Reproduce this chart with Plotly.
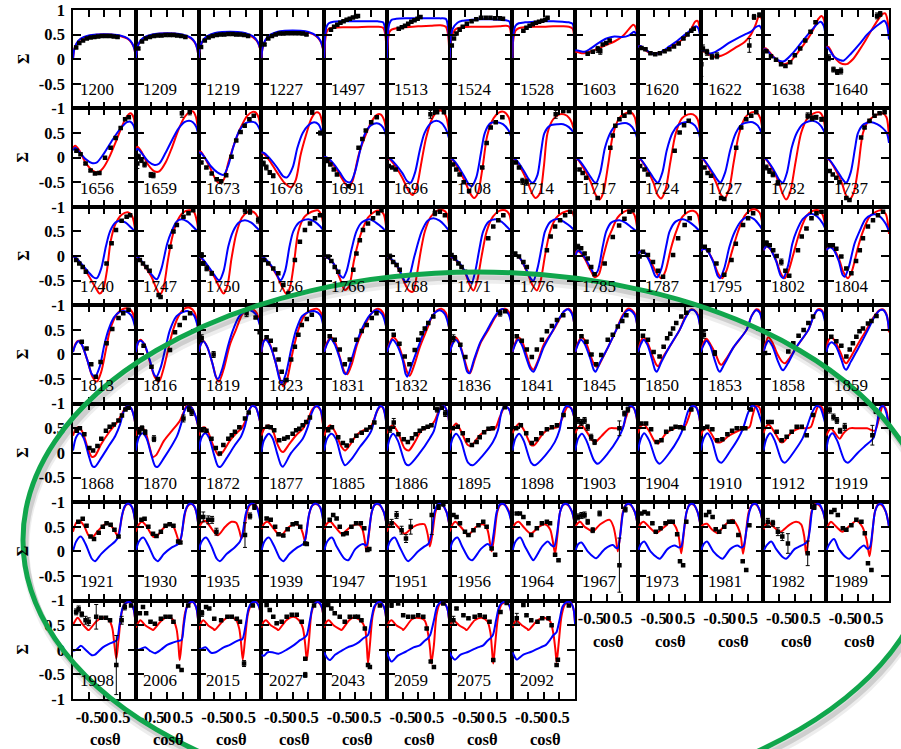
import plotly.graph_objects as go
from plotly.subplots import make_subplots

energies = [1200, 1209, 1219, 1227, 1497, 1513, 1524, 1528, 1603, 1620, 1622, 1638, 1640,
            1656, 1659, 1673, 1678, 1691, 1696, 1708, 1714, 1717, 1724, 1727, 1732, 1737,
            1740, 1747, 1750, 1756, 1766, 1768, 1771, 1776, 1785, 1787, 1795, 1802, 1804,
            1813, 1816, 1819, 1823, 1831, 1832, 1836, 1841, 1845, 1850, 1853, 1858, 1859,
            1868, 1870, 1872, 1877, 1885, 1886, 1895, 1898, 1903, 1904, 1910, 1912, 1919,
            1921, 1930, 1935, 1939, 1947, 1951, 1956, 1964, 1967, 1973, 1981, 1982, 1989,
            1998, 2006, 2015, 2027, 2043, 2059, 2075, 2092]

x_ticks = [-0.5, 0, 0.5]
x_tick_text = ["-0.5", "0", "0.5"]
y_tick_vals = [-1, -0.5, 0, 0.5, 1]
y_tick_text = ["-1", "-0.5", "0", "0.5", "1"]

# red fit curves, (cos theta, Sigma)
red_fit = [
    [(-1,0),(-0.96,0.2),(-0.88,0.32),(-0.75,0.41),(-0.5,0.47),(-0.25,0.495),(0,0.5),(0.25,0.495),(0.5,0.47),(0.75,0.41),(0.88,0.32),(0.96,0.2),(1,0)],
    [(-1,0),(-0.96,0.21),(-0.88,0.34),(-0.75,0.43),(-0.5,0.49),(-0.25,0.515),(0,0.52),(0.25,0.515),(0.5,0.49),(0.75,0.43),(0.88,0.34),(0.96,0.21),(1,0)],
    [(-1,0),(-0.96,0.21),(-0.88,0.35),(-0.75,0.44),(-0.5,0.51),(-0.25,0.535),(0,0.54),(0.25,0.535),(0.5,0.51),(0.75,0.44),(0.88,0.35),(0.96,0.21),(1,0)],
    [(-1,0),(-0.96,0.22),(-0.88,0.37),(-0.75,0.47),(-0.5,0.54),(-0.25,0.565),(0,0.57),(0.25,0.565),(0.5,0.54),(0.75,0.47),(0.88,0.37),(0.96,0.22),(1,0)],
    [(-1,0),(-0.97,0.35),(-0.92,0.55),(-0.85,0.62),(-0.7,0.64),(-0.4,0.65),(0,0.65),(0.4,0.66),(0.7,0.66),(0.88,0.64),(0.95,0.5),(1,0)],
    [(-1,0),(-0.97,0.35),(-0.92,0.55),(-0.85,0.6),(-0.7,0.63),(-0.4,0.65),(0,0.67),(0.4,0.68),(0.7,0.69),(0.88,0.66),(0.95,0.5),(1,0)],
    [(-1,0),(-0.96,0.4),(-0.88,0.55),(-0.78,0.62),(-0.6,0.65),(-0.3,0.66),(0,0.66),(0.3,0.66),(0.6,0.67),(0.8,0.68),(0.9,0.66),(0.96,0.5),(1,0)],
    [(-1,0),(-0.97,0.4),(-0.9,0.58),(-0.8,0.63),(-0.6,0.65),(-0.3,0.66),(0,0.66),(0.3,0.67),(0.6,0.67),(0.8,0.66),(0.92,0.62),(0.97,0.45),(1,0)],
    [(-1,0.15),(-0.9,0.14),(-0.75,0.12),(-0.5,0.16),(-0.25,0.22),(0,0.29),(0.25,0.36),(0.5,0.46),(0.7,0.6),(0.85,0.7),(0.93,0.65),(1,0.3)],
    [(-1,0.25),(-0.92,0.27),(-0.8,0.2),(-0.6,0.12),(-0.4,0.12),(-0.2,0.16),(0,0.22),(0.25,0.32),(0.5,0.45),(0.7,0.62),(0.82,0.76),(0.9,0.78),(0.96,0.65),(1,0.4)],
    [(-1,0.15),(-0.9,0.16),(-0.75,0.1),(-0.55,0.05),(-0.35,0.07),(-0.1,0.15),(0.15,0.25),(0.4,0.35),(0.6,0.5),(0.75,0.7),(0.85,0.86),(0.92,0.85),(1,0.5)],
    [(-1,0.2),(-0.92,0.22),(-0.75,0.1),(-0.55,-0.03),(-0.35,-0.1),(-0.15,-0.05),(0.05,0.1),(0.25,0.27),(0.45,0.45),(0.6,0.62),(0.75,0.82),(0.85,0.88),(0.93,0.8),(1,0.4)],
    [(-1,0.25),(-0.93,0.25),(-0.75,0.05),(-0.55,-0.08),(-0.35,-0.1),(-0.15,0.0),(0.05,0.18),(0.25,0.38),(0.45,0.6),(0.65,0.8),(0.8,0.92),(0.88,0.93),(0.95,0.8),(1,0.5)],
    # row 2
    [(-1,0.2),(-0.93,0.24),(-0.8,0.15),(-0.6,-0.1),(-0.4,-0.25),(-0.2,-0.3),(-0.05,-0.22),(0.15,0.0),(0.35,0.3),(0.55,0.62),(0.7,0.82),(0.83,0.9),(0.93,0.82),(1,0.4)],
    [(-1,0.18),(-0.94,0.22),(-0.8,0.1),(-0.6,-0.15),(-0.4,-0.28),(-0.25,-0.28),(-0.05,-0.1),(0.15,0.2),(0.35,0.55),(0.55,0.82),(0.72,0.93),(0.82,0.94),(0.92,0.82),(1,0.45)],
    [(-1,0.12),(-0.93,0.12),(-0.8,0.0),(-0.6,-0.25),(-0.45,-0.45),(-0.33,-0.52),(-0.2,-0.45),(-0.05,-0.1),(0.15,0.3),(0.35,0.62),(0.55,0.85),(0.72,0.93),(0.82,0.92),(0.92,0.8),(1,0.45)],
    [(-1,0.1),(-0.93,0.08),(-0.75,-0.05),(-0.5,-0.3),(-0.25,-0.52),(-0.05,-0.6),(0.1,-0.45),(0.25,0.05),(0.42,0.45),(0.6,0.8),(0.75,0.92),(0.85,0.9),(0.94,0.72),(1,0.4)],
    [(-1,0.02),(-0.9,-0.02),(-0.7,-0.15),(-0.5,-0.35),(-0.3,-0.55),(-0.2,-0.6),(-0.08,-0.45),(0.1,0.05),(0.3,0.42),(0.5,0.72),(0.68,0.87),(0.8,0.88),(0.92,0.75),(1,0.4)],
    [(-1,0.0),(-0.9,-0.04),(-0.7,-0.2),(-0.5,-0.42),(-0.3,-0.68),(-0.18,-0.76),(-0.05,-0.6),(0.1,-0.1),(0.25,0.4),(0.45,0.8),(0.62,0.94),(0.75,0.95),(0.88,0.85),(1,0.45)],
    [(-1,0.0),(-0.9,-0.05),(-0.7,-0.25),(-0.5,-0.5),(-0.35,-0.72),(-0.22,-0.82),(-0.1,-0.72),(0.05,-0.2),(0.2,0.45),(0.4,0.8),(0.58,0.92),(0.73,0.93),(0.88,0.82),(1,0.45)],
    [(-1,0.0),(-0.9,-0.05),(-0.7,-0.25),(-0.5,-0.52),(-0.38,-0.72),(-0.26,-0.82),(-0.12,-0.72),(0.0,-0.2),(0.12,0.5),(0.3,0.78),(0.5,0.88),(0.65,0.88),(0.82,0.8),(0.95,0.6),(1,0.4)],
    [(-1,0.0),(-0.9,-0.05),(-0.7,-0.25),(-0.5,-0.5),(-0.35,-0.75),(-0.22,-0.85),(-0.1,-0.7),(0.05,-0.15),(0.2,0.45),(0.4,0.8),(0.6,0.9),(0.78,0.92),(0.9,0.82),(1,0.4)],
    [(-1,0.0),(-0.9,-0.05),(-0.7,-0.25),(-0.5,-0.52),(-0.38,-0.75),(-0.26,-0.83),(-0.12,-0.65),(0.03,-0.1),(0.2,0.48),(0.4,0.8),(0.6,0.88),(0.76,0.88),(0.9,0.78),(1,0.4)],
    [(-1,0.0),(-0.9,-0.05),(-0.7,-0.25),(-0.5,-0.52),(-0.36,-0.75),(-0.24,-0.83),(-0.1,-0.65),(0.05,-0.1),(0.22,0.48),(0.42,0.82),(0.62,0.92),(0.77,0.92),(0.9,0.8),(1,0.4)],
    [(-1,0.0),(-0.9,-0.05),(-0.7,-0.25),(-0.5,-0.52),(-0.4,-0.72),(-0.28,-0.85),(-0.15,-0.7),(0.02,-0.1),(0.2,0.5),(0.4,0.8),(0.6,0.9),(0.79,0.92),(0.9,0.82),(1,0.4)],
    [(-1,0.0),(-0.9,-0.05),(-0.7,-0.25),(-0.5,-0.52),(-0.38,-0.75),(-0.26,-0.85),(-0.12,-0.7),(0.02,-0.2),(0.17,0.5),(0.35,0.75),(0.55,0.85),(0.8,0.9),(0.92,0.82),(1,0.4)],
    # row 3
    [(-1,0.0),(-0.9,-0.05),(-0.7,-0.2),(-0.5,-0.4),(-0.3,-0.62),(-0.15,-0.76),(-0.05,-0.7),(0.08,-0.3),(0.2,0.3),(0.35,0.65),(0.55,0.84),(0.75,0.89),(0.88,0.82),(1,0.45)],
    [(-1,0.0),(-0.9,-0.05),(-0.7,-0.22),(-0.5,-0.42),(-0.35,-0.65),(-0.23,-0.78),(-0.12,-0.65),(0.02,-0.1),(0.15,0.35),(0.3,0.68),(0.5,0.88),(0.7,0.93),(0.85,0.9),(0.95,0.7),(1,0.45)],
    [(-1,0.0),(-0.9,-0.05),(-0.7,-0.22),(-0.5,-0.42),(-0.32,-0.65),(-0.2,-0.76),(-0.08,-0.6),(0.05,-0.05),(0.2,0.45),(0.38,0.78),(0.58,0.9),(0.74,0.9),(0.88,0.8),(1,0.45)],
    [(-1,0.0),(-0.9,-0.05),(-0.7,-0.2),(-0.5,-0.4),(-0.32,-0.65),(-0.19,-0.78),(-0.08,-0.62),(0.05,-0.1),(0.18,0.5),(0.38,0.8),(0.6,0.9),(0.8,0.93),(0.92,0.82),(1,0.45)],
    [(-1,0.0),(-0.9,-0.03),(-0.7,-0.15),(-0.5,-0.45),(-0.34,-0.69),(-0.2,-0.6),(-0.05,-0.1),(0.1,0.3),(0.2,0.5),(0.4,0.78),(0.6,0.9),(0.78,0.92),(0.9,0.85),(1,0.45)],
    [(-1,0.0),(-0.9,-0.05),(-0.7,-0.18),(-0.5,-0.45),(-0.3,-0.7),(-0.16,-0.72),(-0.05,-0.4),(0.08,0.1),(0.21,0.5),(0.4,0.8),(0.6,0.92),(0.8,0.93),(0.92,0.85),(1,0.45)],
    [(-1,0.0),(-0.9,-0.04),(-0.7,-0.15),(-0.5,-0.35),(-0.35,-0.6),(-0.24,-0.7),(-0.12,-0.5),(0.02,0.0),(0.18,0.5),(0.38,0.8),(0.58,0.92),(0.77,0.93),(0.9,0.85),(1,0.45)],
    [(-1,0.0),(-0.9,0.03),(-0.75,-0.05),(-0.55,-0.3),(-0.35,-0.6),(-0.22,-0.7),(-0.1,-0.5),(0.05,0.05),(0.2,0.5),(0.4,0.78),(0.6,0.88),(0.84,0.92),(0.94,0.85),(1,0.45)],
    [(-1,0.0),(-0.95,0.1),(-0.85,0.08),(-0.7,-0.05),(-0.5,-0.3),(-0.38,-0.43),(-0.25,-0.38),(-0.1,0.0),(0.05,0.35),(0.15,0.5),(0.35,0.78),(0.55,0.9),(0.73,0.93),(0.88,0.85),(1,0.45)],
    [(-1,0.05),(-0.9,0.1),(-0.8,0.08),(-0.6,-0.1),(-0.4,-0.35),(-0.25,-0.45),(-0.12,-0.3),(0.05,0.15),(0.22,0.5),(0.42,0.8),(0.6,0.9),(0.76,0.92),(0.9,0.85),(1,0.45)],
    [(-1,0.1),(-0.9,0.15),(-0.8,0.12),(-0.6,-0.1),(-0.45,-0.35),(-0.31,-0.45),(-0.18,-0.3),(0.0,0.1),(0.19,0.5),(0.4,0.82),(0.58,0.93),(0.72,0.95),(0.88,0.88),(1,0.45)],
    [(-1,0.12),(-0.9,0.2),(-0.8,0.16),(-0.6,-0.08),(-0.45,-0.35),(-0.32,-0.45),(-0.2,-0.3),(0.0,0.15),(0.16,0.5),(0.38,0.82),(0.58,0.92),(0.74,0.93),(0.88,0.85),(1,0.45)],
    [(-1,0.12),(-0.88,0.2),(-0.78,0.16),(-0.6,-0.05),(-0.45,-0.33),(-0.31,-0.45),(-0.18,-0.3),(0.0,0.15),(0.17,0.5),(0.38,0.8),(0.58,0.9),(0.76,0.93),(0.9,0.85),(1,0.45)],
    # row 4
    [(-1,0.05),(-0.92,0.22),(-0.83,0.28),(-0.72,0.2),(-0.55,-0.1),(-0.38,-0.45),(-0.24,-0.55),(-0.1,-0.35),(0.05,0.1),(0.18,0.5),(0.38,0.8),(0.58,0.92),(0.77,0.93),(0.9,0.85),(1,0.45)],
    [(-1,0.05),(-0.92,0.25),(-0.85,0.3),(-0.72,0.2),(-0.55,-0.15),(-0.4,-0.45),(-0.26,-0.55),(-0.12,-0.3),(0.05,0.15),(0.19,0.5),(0.38,0.8),(0.55,0.93),(0.72,0.95),(0.88,0.85),(1,0.45)],
    [(-1,0.05),(-0.92,0.22),(-0.85,0.28),(-0.72,0.15),(-0.55,-0.2),(-0.42,-0.5),(-0.35,-0.55),(-0.2,-0.3),(0.0,0.2),(0.19,0.5),(0.38,0.8),(0.55,0.92),(0.69,0.93),(0.85,0.85),(1,0.45)],
    [(-1,0.05),(-0.92,0.28),(-0.85,0.32),(-0.72,0.2),(-0.55,-0.15),(-0.4,-0.5),(-0.3,-0.65),(-0.18,-0.5),(0.0,0.05),(0.18,0.5),(0.38,0.8),(0.58,0.9),(0.77,0.93),(0.9,0.85),(1,0.45)],
    [(-1,0.05),(-0.9,0.25),(-0.78,0.35),(-0.65,0.25),(-0.5,-0.05),(-0.35,-0.35),(-0.26,-0.4),(-0.12,-0.2),(0.05,0.2),(0.24,0.5),(0.45,0.78),(0.6,0.9),(0.72,0.93),(0.88,0.85),(1,0.45)],
    [(-1,0.05),(-0.9,0.25),(-0.8,0.35),(-0.68,0.28),(-0.5,-0.05),(-0.36,-0.35),(-0.27,-0.43),(-0.12,-0.2),(0.05,0.15),(0.27,0.5),(0.45,0.78),(0.6,0.9),(0.74,0.93),(0.88,0.85),(1,0.45)],
    [(-1,0.05),(-0.9,0.25),(-0.82,0.35),(-0.7,0.25),(-0.55,-0.05),(-0.42,-0.32),(-0.35,-0.38),(-0.2,-0.1),(0.0,0.25),(0.23,0.5),(0.45,0.75),(0.62,0.9),(0.77,0.93),(0.9,0.85),(1,0.45)],
    [(-1,0.05),(-0.9,0.25),(-0.82,0.35),(-0.7,0.28),(-0.55,0.0),(-0.42,-0.25),(-0.33,-0.31),(-0.2,-0.15),(0.0,0.2),(0.31,0.5),(0.5,0.72),(0.65,0.88),(0.79,0.93),(0.9,0.85),(1,0.45)],
    [(-1,0.05),(-0.9,0.25),(-0.8,0.35),(-0.68,0.28),(-0.52,0.0),(-0.38,-0.22),(-0.28,-0.25),(-0.15,-0.1),(0.05,0.15),(0.31,0.5),(0.5,0.78),(0.68,0.93),(0.82,0.9),(0.92,0.8),(1,0.45)],
    [(-1,0.05),(-0.9,0.28),(-0.82,0.35),(-0.7,0.25),(-0.55,0.0),(-0.42,-0.2),(-0.36,-0.24),(-0.2,-0.05),(0.0,0.15),(0.33,0.5),(0.5,0.75),(0.7,0.92),(0.8,0.9),(0.92,0.8),(1,0.45)],
    [(-1,0.05),(-0.9,0.25),(-0.82,0.32),(-0.7,0.22),(-0.52,0.0),(-0.4,-0.18),(-0.34,-0.21),(-0.2,-0.1),(0.05,0.15),(0.46,0.5),(0.62,0.78),(0.78,0.92),(0.88,0.88),(1,0.45)],
    [(-1,0.05),(-0.92,0.25),(-0.85,0.35),(-0.72,0.25),(-0.55,0.0),(-0.4,-0.15),(-0.32,-0.18),(-0.2,-0.1),(0.05,0.15),(0.43,0.5),(0.6,0.78),(0.74,0.92),(0.86,0.9),(0.95,0.75),(1,0.45)],
    [(-1,0.1),(-0.92,0.3),(-0.83,0.35),(-0.7,0.25),(-0.52,0.0),(-0.42,-0.15),(-0.36,-0.18),(-0.22,-0.05),(0.0,0.2),(0.28,0.5),(0.5,0.75),(0.7,0.9),(0.8,0.92),(0.92,0.82),(1,0.45)],
    # row 5
    [(-1,0.35),(-0.9,0.5),(-0.8,0.52),(-0.68,0.4),(-0.52,0.08),(-0.4,-0.08),(-0.3,-0.06),(-0.1,0.18),(0.15,0.42),(0.4,0.62),(0.55,0.78),(0.66,0.92),(0.75,0.95),(0.86,0.9),(0.95,0.72),(1,0.5)],
    [(-1,0.35),(-0.9,0.5),(-0.8,0.52),(-0.68,0.4),(-0.55,0.1),(-0.46,-0.08),(-0.36,-0.05),(-0.1,0.25),(0.15,0.45),(0.4,0.65),(0.52,0.82),(0.62,0.95),(0.75,0.94),(0.9,0.75),(1,0.5)],
    [(-1,0.35),(-0.9,0.5),(-0.8,0.52),(-0.68,0.4),(-0.5,0.1),(-0.36,-0.05),(-0.25,0.0),(0.0,0.25),(0.2,0.4),(0.37,0.5),(0.5,0.66),(0.6,0.85),(0.7,0.95),(0.82,0.93),(0.93,0.72),(1,0.5)],
    [(-1,0.35),(-0.9,0.5),(-0.76,0.56),(-0.63,0.45),(-0.5,0.2),(-0.37,0.04),(-0.3,0.02),(-0.1,0.19),(0.11,0.36),(0.32,0.49),(0.5,0.7),(0.62,0.88),(0.74,0.95),(0.88,0.88),(0.96,0.6),(1,0.5)],
    [(-1,0.35),(-0.9,0.5),(-0.8,0.56),(-0.65,0.43),(-0.44,0.12),(-0.33,0.05),(-0.18,0.16),(0.03,0.36),(0.25,0.46),(0.46,0.5),(0.62,0.73),(0.73,0.9),(0.83,0.95),(0.94,0.8),(1,0.5)],
    [(-1,0.4),(-0.92,0.5),(-0.8,0.56),(-0.65,0.42),(-0.43,0.09),(-0.3,0.05),(-0.11,0.22),(0.11,0.46),(0.37,0.53),(0.53,0.66),(0.69,0.9),(0.82,0.95),(0.94,0.8),(1,0.5)],
    [(-1,0.4),(-0.92,0.5),(-0.79,0.6),(-0.62,0.42),(-0.42,0.16),(-0.31,0.15),(-0.04,0.36),(0.17,0.46),(0.44,0.49),(0.6,0.73),(0.76,0.93),(0.88,0.9),(0.96,0.75),(1,0.5)],
    [(-1,0.4),(-0.92,0.5),(-0.78,0.6),(-0.62,0.45),(-0.4,0.16),(-0.3,0.16),(-0.03,0.39),(0.18,0.49),(0.45,0.53),(0.6,0.72),(0.75,0.93),(0.86,0.92),(0.96,0.75),(1,0.5)],
    [(-1,0.4),(-0.9,0.52),(-0.8,0.56),(-0.65,0.45),(-0.45,0.25),(-0.36,0.22),(-0.15,0.35),(0.1,0.5),(0.3,0.5),(0.5,0.5),(0.62,0.72),(0.75,0.93),(0.86,0.92),(0.95,0.75),(1,0.5)],
    [(-1,0.4),(-0.9,0.55),(-0.8,0.57),(-0.65,0.45),(-0.45,0.22),(-0.36,0.19),(-0.1,0.4),(0.17,0.5),(0.35,0.55),(0.5,0.55),(0.62,0.73),(0.75,0.95),(0.86,0.93),(0.95,0.75),(1,0.5)],
    [(-1,0.35),(-0.9,0.48),(-0.8,0.5),(-0.65,0.38),(-0.5,0.22),(-0.35,0.22),(-0.1,0.35),(0.2,0.45),(0.4,0.5),(0.55,0.52),(0.65,0.75),(0.76,0.95),(0.86,0.93),(0.95,0.75),(1,0.5)],
    [(-1,0.4),(-0.9,0.55),(-0.82,0.57),(-0.65,0.42),(-0.45,0.22),(-0.37,0.22),(-0.1,0.42),(0.15,0.5),(0.35,0.5),(0.5,0.52),(0.62,0.73),(0.75,0.95),(0.86,0.93),(0.95,0.75),(1,0.5)],
    [(-1,0.35),(-0.92,0.45),(-0.85,0.5),(-0.72,0.4),(-0.57,0.29),(-0.45,0.4),(-0.26,0.5),(0.0,0.5),(0.3,0.5),(0.55,0.45),(0.68,0.7),(0.8,0.95),(0.9,0.9),(1,0.5)],
    # row 6
    [(-1,0.4),(-0.9,0.58),(-0.8,0.62),(-0.65,0.52),(-0.5,0.32),(-0.4,0.28),(-0.2,0.42),(0.0,0.54),(0.15,0.55),(0.3,0.45),(0.42,0.32),(0.5,0.5),(0.6,0.82),(0.7,0.95),(0.82,0.95),(0.93,0.8),(1,0.5)],
    [(-1,0.4),(-0.9,0.55),(-0.8,0.6),(-0.65,0.5),(-0.45,0.3),(-0.34,0.3),(-0.15,0.45),(0.05,0.55),(0.2,0.5),(0.32,0.3),(0.4,0.15),(0.5,0.5),(0.6,0.85),(0.7,0.95),(0.82,0.95),(0.93,0.8),(1,0.5)],
    [(-1,0.45),(-0.9,0.58),(-0.8,0.62),(-0.65,0.52),(-0.45,0.35),(-0.37,0.33),(-0.15,0.5),(0.05,0.6),(0.2,0.58),(0.3,0.42),(0.37,0.26),(0.45,0.45),(0.55,0.8),(0.65,0.95),(0.8,0.95),(0.93,0.8),(1,0.5)],
    [(-1,0.45),(-0.9,0.57),(-0.8,0.6),(-0.65,0.5),(-0.45,0.34),(-0.35,0.33),(-0.15,0.48),(0.1,0.55),(0.25,0.48),(0.33,0.35),(0.39,0.2),(0.45,0.45),(0.55,0.82),(0.65,0.95),(0.8,0.95),(0.93,0.8),(1,0.5)],
    [(-1,0.45),(-0.9,0.57),(-0.8,0.6),(-0.65,0.5),(-0.45,0.36),(-0.39,0.37),(-0.15,0.5),(0.09,0.55),(0.22,0.45),(0.3,0.2),(0.35,0.0),(0.42,0.3),(0.52,0.8),(0.62,0.95),(0.75,0.95),(0.9,0.8),(1,0.5)],
    [(-1,0.4),(-0.9,0.55),(-0.82,0.6),(-0.65,0.5),(-0.45,0.36),(-0.39,0.37),(-0.15,0.5),(0.05,0.55),(0.2,0.55),(0.3,0.35),(0.37,0.1),(0.45,0.35),(0.55,0.8),(0.65,0.95),(0.76,0.95),(0.9,0.8),(1,0.5)],
    [(-1,0.4),(-0.9,0.55),(-0.82,0.6),(-0.65,0.5),(-0.45,0.35),(-0.4,0.33),(-0.15,0.5),(0.07,0.55),(0.2,0.45),(0.28,0.2),(0.34,0.0),(0.42,0.3),(0.52,0.8),(0.62,0.95),(0.75,0.95),(0.9,0.8),(1,0.5)],
    [(-1,0.45),(-0.9,0.57),(-0.8,0.6),(-0.65,0.5),(-0.45,0.37),(-0.38,0.37),(-0.15,0.5),(0.04,0.55),(0.2,0.45),(0.29,0.2),(0.36,-0.05),(0.43,0.3),(0.52,0.8),(0.62,0.95),(0.75,0.95),(0.9,0.8),(1,0.5)],
    [(-1,0.5),(-0.9,0.58),(-0.84,0.6),(-0.7,0.5),(-0.5,0.42),(-0.44,0.4),(-0.2,0.55),(0.1,0.64),(0.22,0.5),(0.3,0.25),(0.36,0.0),(0.43,0.3),(0.52,0.8),(0.63,0.95),(0.75,0.95),(0.9,0.8),(1,0.5)],
    [(-1,0.45),(-0.9,0.57),(-0.82,0.6),(-0.65,0.5),(-0.45,0.38),(-0.41,0.37),(-0.15,0.5),(0.05,0.6),(0.2,0.5),(0.3,0.3),(0.38,-0.04),(0.45,0.3),(0.55,0.8),(0.65,0.95),(0.77,0.95),(0.9,0.8),(1,0.5)],
    [(-1,0.5),(-0.9,0.55),(-0.8,0.56),(-0.65,0.45),(-0.5,0.38),(-0.46,0.37),(-0.2,0.55),(0.02,0.64),(0.18,0.5),(0.28,0.3),(0.35,-0.05),(0.43,0.3),(0.53,0.8),(0.65,0.95),(0.77,0.95),(0.9,0.8),(1,0.5)],
    [(-1,0.45),(-0.9,0.57),(-0.85,0.6),(-0.68,0.5),(-0.48,0.4),(-0.44,0.4),(-0.15,0.55),(0.04,0.6),(0.2,0.55),(0.3,0.3),(0.36,-0.05),(0.44,0.3),(0.53,0.8),(0.63,0.95),(0.75,0.95),(0.9,0.8),(1,0.5)],
    [(-1,0.45),(-0.9,0.57),(-0.85,0.6),(-0.68,0.5),(-0.5,0.4),(-0.47,0.4),(-0.2,0.55),(-0.04,0.62),(0.15,0.5),(0.28,0.25),(0.38,-0.1),(0.46,0.3),(0.55,0.8),(0.65,0.95),(0.75,0.95),(0.9,0.8),(1,0.5)],
    # row 7
    [(-1,0.5),(-0.92,0.6),(-0.85,0.65),(-0.7,0.52),(-0.55,0.42),(-0.5,0.4),(-0.25,0.58),(-0.04,0.65),(0.15,0.6),(0.25,0.45),(0.32,0.1),(0.38,-0.18),(0.45,0.2),(0.55,0.75),(0.65,0.93),(0.8,0.97),(0.92,0.85),(1,0.5)],
    [(-1,0.45),(-0.92,0.55),(-0.85,0.6),(-0.7,0.5),(-0.5,0.42),(-0.45,0.4),(-0.2,0.58),(0.03,0.67),(0.2,0.6),(0.3,0.42),(0.36,0.1),(0.4,-0.21),(0.47,0.2),(0.57,0.75),(0.68,0.93),(0.82,0.97),(0.93,0.85),(1,0.5)],
    [(-1,0.4),(-0.92,0.55),(-0.85,0.6),(-0.7,0.5),(-0.52,0.42),(-0.49,0.4),(-0.2,0.6),(-0.01,0.67),(0.2,0.6),(0.3,0.42),(0.36,0.1),(0.41,-0.2),(0.48,0.2),(0.58,0.75),(0.7,0.93),(0.84,0.97),(0.94,0.85),(1,0.5)],
    [(-1,0.45),(-0.92,0.57),(-0.85,0.6),(-0.7,0.5),(-0.5,0.42),(-0.46,0.4),(-0.2,0.6),(0.02,0.67),(0.2,0.6),(0.32,0.45),(0.4,0.1),(0.45,-0.21),(0.52,0.2),(0.6,0.75),(0.7,0.93),(0.8,0.97),(0.93,0.85),(1,0.5)],
    [(-1,0.45),(-0.92,0.57),(-0.85,0.6),(-0.7,0.5),(-0.5,0.42),(-0.45,0.4),(-0.2,0.6),(-0.07,0.65),(0.15,0.6),(0.3,0.45),(0.36,0.1),(0.4,-0.28),(0.46,0.1),(0.55,0.7),(0.66,0.93),(0.78,0.97),(0.92,0.85),(1,0.5)],
    [(-1,0.45),(-0.92,0.57),(-0.85,0.6),(-0.7,0.5),(-0.5,0.42),(-0.48,0.4),(-0.2,0.62),(-0.05,0.65),(0.2,0.6),(0.32,0.3),(0.38,0.0),(0.42,-0.28),(0.5,0.1),(0.58,0.7),(0.68,0.93),(0.8,0.97),(0.92,0.85),(1,0.5)],
    [(-1,0.45),(-0.92,0.57),(-0.88,0.6),(-0.7,0.5),(-0.5,0.42),(-0.46,0.4),(-0.2,0.6),(0.02,0.65),(0.2,0.58),(0.3,0.35),(0.35,0.0),(0.39,-0.28),(0.45,0.1),(0.55,0.7),(0.66,0.93),(0.82,0.97),(0.93,0.85),(1,0.5)],
    [(-1,0.45),(-0.92,0.57),(-0.88,0.6),(-0.7,0.5),(-0.52,0.42),(-0.49,0.4),(-0.2,0.6),(-0.01,0.65),(0.2,0.58),(0.3,0.35),(0.37,0.0),(0.41,-0.25),(0.47,0.1),(0.57,0.7),(0.68,0.93),(0.84,0.97),(0.94,0.85),(1,0.5)],
]

# blue fit curves
blue_fit = [
    [(-1,0),(-0.96,0.2),(-0.88,0.33),(-0.75,0.42),(-0.5,0.48),(-0.25,0.5),(0,0.505),(0.25,0.5),(0.5,0.48),(0.75,0.42),(0.88,0.33),(0.96,0.2),(1,0)],
    [(-1,0),(-0.96,0.21),(-0.88,0.35),(-0.75,0.44),(-0.5,0.5),(-0.25,0.525),(0,0.53),(0.25,0.525),(0.5,0.5),(0.75,0.44),(0.88,0.35),(0.96,0.21),(1,0)],
    [(-1,0),(-0.96,0.22),(-0.88,0.36),(-0.75,0.46),(-0.5,0.53),(-0.25,0.555),(0,0.56),(0.25,0.555),(0.5,0.53),(0.75,0.46),(0.88,0.36),(0.96,0.22),(1,0)],
    [(-1,0),(-0.96,0.23),(-0.88,0.38),(-0.75,0.48),(-0.5,0.555),(-0.25,0.58),(0,0.585),(0.25,0.58),(0.5,0.555),(0.75,0.48),(0.88,0.38),(0.96,0.23),(1,0)],
    [(-1,0),(-0.97,0.45),(-0.92,0.66),(-0.85,0.73),(-0.7,0.76),(-0.4,0.77),(0,0.77),(0.4,0.77),(0.7,0.77),(0.88,0.75),(0.95,0.6),(1,0)],
    [(-1,0),(-0.97,0.5),(-0.92,0.72),(-0.85,0.8),(-0.7,0.82),(-0.4,0.83),(0,0.83),(0.4,0.83),(0.7,0.83),(0.88,0.82),(0.95,0.65),(1,0)],
    [(-1,0),(-0.96,0.45),(-0.9,0.62),(-0.75,0.74),(-0.6,0.78),(-0.3,0.8),(0,0.81),(0.3,0.81),(0.6,0.8),(0.8,0.79),(0.9,0.77),(0.96,0.6),(1,0)],
    [(-1,0),(-0.97,0.5),(-0.9,0.68),(-0.8,0.73),(-0.6,0.75),(-0.3,0.76),(0,0.77),(0.3,0.77),(0.6,0.76),(0.8,0.75),(0.92,0.72),(0.97,0.5),(1,0)],
    [(-1,0.18),(-0.88,0.17),(-0.7,0.15),(-0.5,0.22),(-0.25,0.33),(0,0.42),(0.25,0.46),(0.5,0.45),(0.7,0.48),(0.88,0.56),(0.95,0.5),(1,0.3)],
    [(-1,0.25),(-0.92,0.27),(-0.8,0.22),(-0.6,0.13),(-0.45,0.1),(-0.2,0.17),(0,0.26),(0.25,0.37),(0.5,0.5),(0.7,0.6),(0.85,0.67),(0.93,0.62),(1,0.4)],
    [(-1,0.15),(-0.9,0.18),(-0.75,0.12),(-0.6,0.13),(-0.35,0.22),(-0.1,0.33),(0.15,0.42),(0.4,0.5),(0.6,0.56),(0.75,0.65),(0.87,0.68),(0.95,0.6),(1,0.4)],
    [(-1,0.2),(-0.92,0.2),(-0.75,0.08),(-0.5,-0.03),(-0.35,-0.04),(-0.1,0.1),(0.1,0.25),(0.35,0.45),(0.55,0.6),(0.72,0.72),(0.82,0.76),(0.92,0.68),(1,0.35)],
    [(-1,0.25),(-0.93,0.22),(-0.75,0.05),(-0.55,-0.02),(-0.45,-0.03),(-0.2,0.12),(0.05,0.3),(0.3,0.5),(0.5,0.62),(0.7,0.72),(0.85,0.78),(0.93,0.7),(1,0.4)],
    # row 2
    [(-1,0.15),(-0.93,0.2),(-0.8,0.12),(-0.6,-0.03),(-0.4,-0.11),(-0.25,-0.1),(-0.05,0.05),(0.15,0.25),(0.35,0.45),(0.55,0.62),(0.72,0.72),(0.83,0.73),(0.93,0.65),(1,0.45)],
    [(-1,0.15),(-0.94,0.18),(-0.8,0.08),(-0.6,-0.08),(-0.4,-0.15),(-0.25,-0.12),(-0.05,0.1),(0.15,0.35),(0.35,0.58),(0.55,0.72),(0.7,0.75),(0.82,0.72),(0.93,0.62),(1,0.45)],
    [(-1,0.1),(-0.93,0.1),(-0.8,0.0),(-0.6,-0.18),(-0.4,-0.3),(-0.2,-0.35),(-0.05,-0.15),(0.1,0.2),(0.3,0.55),(0.5,0.7),(0.7,0.73),(0.83,0.7),(0.93,0.6),(1,0.45)],
    [(-1,0.1),(-0.93,0.1),(-0.75,0.0),(-0.5,-0.2),(-0.3,-0.38),(-0.18,-0.4),(0.0,-0.2),(0.15,0.2),(0.32,0.5),(0.5,0.66),(0.68,0.72),(0.82,0.68),(0.94,0.5),(1,0.3)],
    [(-1,0.02),(-0.9,0.0),(-0.7,-0.12),(-0.5,-0.3),(-0.3,-0.48),(-0.16,-0.5),(-0.02,-0.3),(0.15,0.15),(0.3,0.48),(0.5,0.66),(0.68,0.7),(0.82,0.66),(0.93,0.55),(1,0.35)],
    [(-1,0.0),(-0.9,-0.02),(-0.7,-0.15),(-0.5,-0.32),(-0.35,-0.48),(-0.24,-0.51),(-0.1,-0.3),(0.05,0.15),(0.2,0.5),(0.4,0.7),(0.58,0.75),(0.75,0.7),(0.9,0.55),(1,0.35)],
    [(-1,0.0),(-0.9,-0.04),(-0.7,-0.2),(-0.5,-0.42),(-0.38,-0.55),(-0.3,-0.58),(-0.15,-0.4),(0.0,0.1),(0.12,0.5),(0.3,0.7),(0.5,0.72),(0.7,0.68),(0.88,0.55),(1,0.35)],
    [(-1,0.0),(-0.9,-0.04),(-0.7,-0.2),(-0.5,-0.42),(-0.4,-0.5),(-0.34,-0.51),(-0.2,-0.35),(-0.08,0.15),(0.02,0.5),(0.2,0.65),(0.45,0.68),(0.62,0.68),(0.8,0.62),(0.95,0.5),(1,0.35)],
    [(-1,0.0),(-0.9,-0.04),(-0.7,-0.2),(-0.5,-0.4),(-0.38,-0.5),(-0.33,-0.51),(-0.2,-0.3),(-0.05,0.2),(0.12,0.5),(0.3,0.66),(0.5,0.7),(0.65,0.7),(0.82,0.62),(0.95,0.45),(1,0.3)],
    [(-1,0.0),(-0.9,-0.04),(-0.7,-0.22),(-0.5,-0.42),(-0.4,-0.5),(-0.36,-0.51),(-0.22,-0.3),(-0.08,0.15),(0.1,0.5),(0.3,0.67),(0.5,0.72),(0.65,0.72),(0.82,0.65),(0.95,0.48),(1,0.3)],
    [(-1,0.0),(-0.9,-0.04),(-0.7,-0.22),(-0.5,-0.42),(-0.4,-0.5),(-0.37,-0.51),(-0.22,-0.3),(-0.06,0.15),(0.12,0.5),(0.32,0.68),(0.52,0.72),(0.66,0.72),(0.82,0.65),(0.95,0.48),(1,0.3)],
    [(-1,0.0),(-0.9,-0.04),(-0.7,-0.22),(-0.5,-0.45),(-0.42,-0.5),(-0.38,-0.51),(-0.25,-0.3),(-0.1,0.2),(0.06,0.5),(0.25,0.68),(0.45,0.74),(0.57,0.75),(0.75,0.7),(0.92,0.55),(1,0.35)],
    [(-1,0.0),(-0.9,-0.04),(-0.7,-0.22),(-0.5,-0.42),(-0.4,-0.5),(-0.36,-0.51),(-0.22,-0.3),(-0.08,0.2),(0.01,0.5),(0.2,0.68),(0.44,0.72),(0.62,0.68),(0.8,0.6),(0.93,0.5),(1,0.3)],
    # row 3
    [(-1,0.0),(-0.9,-0.04),(-0.7,-0.18),(-0.5,-0.33),(-0.35,-0.43),(-0.24,-0.45),(-0.1,-0.25),(0.05,0.2),(0.18,0.5),(0.35,0.68),(0.5,0.72),(0.68,0.68),(0.85,0.58),(1,0.48)],
    [(-1,0.0),(-0.9,-0.04),(-0.7,-0.2),(-0.5,-0.37),(-0.38,-0.46),(-0.32,-0.47),(-0.18,-0.25),(0.0,0.25),(0.14,0.5),(0.3,0.7),(0.46,0.75),(0.65,0.7),(0.85,0.58),(1,0.48)],
    [(-1,0.0),(-0.9,-0.04),(-0.7,-0.2),(-0.5,-0.38),(-0.38,-0.48),(-0.33,-0.49),(-0.2,-0.3),(-0.05,0.2),(0.1,0.5),(0.28,0.68),(0.48,0.73),(0.68,0.68),(0.85,0.58),(1,0.48)],
    [(-1,0.0),(-0.9,-0.04),(-0.7,-0.18),(-0.5,-0.38),(-0.42,-0.48),(-0.38,-0.49),(-0.24,-0.3),(-0.1,0.2),(0.02,0.5),(0.2,0.68),(0.4,0.74),(0.5,0.75),(0.7,0.7),(0.88,0.6),(1,0.5)],
    [(-1,0.0),(-0.9,-0.03),(-0.7,-0.15),(-0.5,-0.38),(-0.39,-0.44),(-0.28,-0.3),(-0.12,0.15),(0.03,0.5),(0.2,0.68),(0.46,0.75),(0.65,0.68),(0.85,0.58),(1,0.48)],
    [(-1,0.0),(-0.9,-0.04),(-0.7,-0.16),(-0.5,-0.42),(-0.4,-0.53),(-0.3,-0.45),(-0.12,0.0),(0.11,0.5),(0.3,0.72),(0.48,0.77),(0.68,0.72),(0.85,0.62),(1,0.5)],
    [(-1,0.0),(-0.9,-0.03),(-0.7,-0.13),(-0.5,-0.33),(-0.38,-0.5),(-0.3,-0.55),(-0.18,-0.3),(-0.05,0.15),(0.07,0.5),(0.25,0.7),(0.45,0.75),(0.65,0.7),(0.85,0.58),(1,0.48)],
    [(-1,0.0),(-0.9,0.03),(-0.75,-0.05),(-0.55,-0.28),(-0.4,-0.47),(-0.33,-0.5),(-0.2,-0.25),(-0.06,0.2),(0.04,0.5),(0.22,0.7),(0.47,0.75),(0.68,0.68),(0.85,0.6),(1,0.5)],
    [(-1,0.0),(-0.92,0.1),(-0.85,0.1),(-0.7,-0.02),(-0.5,-0.25),(-0.38,-0.37),(-0.28,-0.3),(-0.12,0.2),(-0.01,0.5),(0.15,0.68),(0.41,0.73),(0.6,0.68),(0.8,0.58),(1,0.48)],
    [(-1,0.05),(-0.9,0.1),(-0.8,0.08),(-0.6,-0.15),(-0.45,-0.4),(-0.38,-0.43),(-0.25,-0.25),(-0.1,0.2),(0.01,0.5),(0.2,0.7),(0.44,0.75),(0.62,0.7),(0.82,0.6),(1,0.48)],
    [(-1,0.1),(-0.9,0.15),(-0.8,0.12),(-0.6,-0.12),(-0.46,-0.4),(-0.39,-0.45),(-0.25,-0.25),(-0.08,0.2),(0.09,0.5),(0.3,0.72),(0.51,0.8),(0.7,0.75),(0.88,0.62),(1,0.5)],
    [(-1,0.12),(-0.9,0.2),(-0.8,0.16),(-0.6,-0.1),(-0.45,-0.4),(-0.37,-0.45),(-0.22,-0.2),(-0.08,0.25),(0.05,0.5),(0.25,0.75),(0.45,0.85),(0.53,0.86),(0.72,0.8),(0.9,0.65),(1,0.5)],
    [(-1,0.12),(-0.88,0.18),(-0.78,0.14),(-0.6,-0.1),(-0.48,-0.38),(-0.41,-0.42),(-0.28,-0.22),(-0.1,0.25),(0.06,0.5),(0.25,0.75),(0.45,0.84),(0.54,0.85),(0.72,0.8),(0.9,0.65),(1,0.5)],
    # row 4
    [(-1,0.05),(-0.92,0.2),(-0.83,0.27),(-0.72,0.2),(-0.55,-0.1),(-0.4,-0.4),(-0.3,-0.45),(-0.15,-0.25),(0.0,0.2),(0.13,0.5),(0.3,0.75),(0.5,0.87),(0.66,0.88),(0.85,0.8),(1,0.5)],
    [(-1,0.05),(-0.92,0.25),(-0.85,0.28),(-0.72,0.2),(-0.55,-0.12),(-0.42,-0.4),(-0.34,-0.45),(-0.2,-0.25),(-0.03,0.2),(0.09,0.5),(0.3,0.78),(0.5,0.86),(0.67,0.88),(0.85,0.8),(1,0.5)],
    [(-1,0.05),(-0.92,0.22),(-0.85,0.27),(-0.72,0.15),(-0.55,-0.2),(-0.45,-0.45),(-0.38,-0.5),(-0.25,-0.3),(-0.05,0.2),(0.1,0.5),(0.3,0.78),(0.5,0.88),(0.64,0.9),(0.82,0.82),(1,0.5)],
    [(-1,0.05),(-0.92,0.27),(-0.85,0.3),(-0.72,0.18),(-0.55,-0.15),(-0.42,-0.5),(-0.35,-0.58),(-0.22,-0.4),(-0.05,0.1),(0.11,0.5),(0.3,0.78),(0.5,0.86),(0.71,0.88),(0.88,0.8),(1,0.5)],
    [(-1,0.05),(-0.9,0.22),(-0.8,0.32),(-0.67,0.22),(-0.5,-0.08),(-0.36,-0.38),(-0.3,-0.4),(-0.15,-0.15),(0.02,0.2),(0.19,0.5),(0.4,0.75),(0.55,0.86),(0.67,0.9),(0.85,0.82),(1,0.5)],
    [(-1,0.05),(-0.9,0.22),(-0.82,0.3),(-0.7,0.22),(-0.5,-0.1),(-0.4,-0.4),(-0.35,-0.45),(-0.2,-0.2),(0.0,0.15),(0.21,0.5),(0.42,0.75),(0.55,0.86),(0.69,0.9),(0.85,0.82),(1,0.5)],
    [(-1,0.05),(-0.9,0.22),(-0.82,0.3),(-0.7,0.22),(-0.55,-0.08),(-0.44,-0.35),(-0.37,-0.38),(-0.22,-0.1),(-0.02,0.25),(0.2,0.5),(0.42,0.75),(0.6,0.9),(0.72,0.92),(0.88,0.82),(1,0.5)],
    [(-1,0.05),(-0.9,0.22),(-0.82,0.3),(-0.7,0.2),(-0.55,-0.08),(-0.42,-0.3),(-0.33,-0.35),(-0.18,-0.15),(0.0,0.15),(0.3,0.5),(0.5,0.74),(0.65,0.88),(0.77,0.92),(0.9,0.82),(1,0.5)],
    [(-1,0.05),(-0.9,0.22),(-0.82,0.3),(-0.7,0.22),(-0.52,-0.08),(-0.4,-0.32),(-0.35,-0.35),(-0.2,-0.15),(0.05,0.15),(0.31,0.5),(0.5,0.75),(0.63,0.88),(0.75,0.9),(0.9,0.8),(1,0.5)],
    [(-1,0.05),(-0.9,0.22),(-0.82,0.3),(-0.7,0.2),(-0.55,-0.1),(-0.45,-0.32),(-0.4,-0.35),(-0.25,-0.15),(0.0,0.15),(0.33,0.5),(0.52,0.75),(0.67,0.9),(0.78,0.9),(0.9,0.8),(1,0.5)],
    [(-1,0.05),(-0.9,0.2),(-0.82,0.28),(-0.7,0.18),(-0.55,-0.12),(-0.44,-0.32),(-0.39,-0.35),(-0.25,-0.2),(0.05,0.15),(0.46,0.5),(0.62,0.78),(0.76,0.9),(0.88,0.85),(1,0.5)],
    [(-1,0.05),(-0.92,0.2),(-0.85,0.28),(-0.72,0.18),(-0.55,-0.12),(-0.42,-0.3),(-0.37,-0.32),(-0.22,-0.18),(0.05,0.15),(0.43,0.5),(0.6,0.78),(0.72,0.9),(0.86,0.88),(0.95,0.7),(1,0.5)],
    [(-1,0.05),(-0.92,0.2),(-0.83,0.25),(-0.7,0.18),(-0.52,-0.1),(-0.42,-0.28),(-0.36,-0.31),(-0.22,-0.15),(0.0,0.1),(0.33,0.5),(0.55,0.78),(0.72,0.9),(0.82,0.9),(0.93,0.78),(1,0.5)],
    # row 5
    [(-1,0.05),(-0.9,0.32),(-0.78,0.4),(-0.66,0.3),(-0.5,-0.05),(-0.38,-0.27),(-0.3,-0.28),(-0.1,-0.1),(0.15,0.15),(0.35,0.35),(0.5,0.58),(0.62,0.85),(0.72,0.95),(0.84,0.92),(0.95,0.72),(1,0.5)],
    [(-1,0.05),(-0.9,0.32),(-0.78,0.4),(-0.66,0.3),(-0.5,-0.05),(-0.38,-0.27),(-0.3,-0.28),(-0.1,-0.1),(0.15,0.15),(0.32,0.35),(0.45,0.6),(0.55,0.85),(0.65,0.95),(0.78,0.92),(0.92,0.72),(1,0.5)],
    [(-1,0.05),(-0.9,0.32),(-0.78,0.4),(-0.66,0.3),(-0.5,-0.05),(-0.38,-0.27),(-0.3,-0.28),(-0.1,-0.1),(0.15,0.15),(0.35,0.33),(0.48,0.55),(0.6,0.85),(0.7,0.95),(0.82,0.93),(0.93,0.72),(1,0.5)],
    [(-1,0.0),(-0.92,0.25),(-0.76,0.39),(-0.64,0.3),(-0.5,0.0),(-0.37,-0.25),(-0.31,-0.28),(-0.05,0.0),(0.32,0.29),(0.48,0.53),(0.6,0.8),(0.7,0.93),(0.8,0.95),(0.9,0.85),(1,0.5)],
    [(-1,0.05),(-0.9,0.3),(-0.76,0.39),(-0.62,0.28),(-0.44,-0.12),(-0.33,-0.25),(-0.12,-0.12),(0.14,0.12),(0.35,0.29),(0.51,0.46),(0.67,0.83),(0.78,0.95),(0.88,0.92),(0.96,0.7),(1,0.5)],
    [(-1,0.05),(-0.9,0.3),(-0.8,0.39),(-0.65,0.25),(-0.4,-0.22),(-0.3,-0.25),(0.05,0.0),(0.37,0.3),(0.5,0.45),(0.62,0.75),(0.72,0.92),(0.82,0.95),(0.94,0.8),(1,0.5)],
    [(-1,0.05),(-0.9,0.3),(-0.79,0.39),(-0.64,0.25),(-0.42,-0.19),(-0.26,-0.25),(0.06,-0.05),(0.38,0.22),(0.54,0.46),(0.66,0.85),(0.76,0.95),(0.88,0.9),(0.96,0.75),(1,0.5)],
    [(-1,0.05),(-0.9,0.3),(-0.78,0.39),(-0.64,0.25),(-0.4,-0.2),(-0.28,-0.25),(0.05,-0.05),(0.35,0.22),(0.5,0.46),(0.62,0.85),(0.72,0.95),(0.85,0.92),(0.96,0.75),(1,0.5)],
    [(-1,0.05),(-0.9,0.3),(-0.78,0.39),(-0.64,0.25),(-0.4,-0.15),(-0.28,-0.22),(0.05,0.0),(0.35,0.28),(0.52,0.5),(0.65,0.85),(0.75,0.95),(0.86,0.92),(0.95,0.75),(1,0.5)],
    [(-1,0.05),(-0.9,0.3),(-0.8,0.4),(-0.64,0.25),(-0.42,-0.15),(-0.31,-0.22),(0.0,0.0),(0.3,0.3),(0.44,0.5),(0.6,0.85),(0.72,0.95),(0.85,0.93),(0.95,0.75),(1,0.5)],
    [(-1,0.05),(-0.9,0.3),(-0.78,0.4),(-0.64,0.25),(-0.45,-0.15),(-0.34,-0.2),(-0.05,0.05),(0.2,0.3),(0.35,0.5),(0.5,0.8),(0.62,0.95),(0.76,0.93),(0.9,0.7),(1,0.5)],
    [(-1,0.05),(-0.9,0.3),(-0.78,0.4),(-0.64,0.25),(-0.42,-0.15),(-0.32,-0.2),(0.0,0.05),(0.25,0.3),(0.37,0.5),(0.55,0.82),(0.68,0.95),(0.8,0.93),(0.92,0.72),(1,0.5)],
    [(-1,0.05),(-0.92,0.3),(-0.8,0.4),(-0.65,0.25),(-0.42,-0.15),(-0.31,-0.2),(0.0,0.0),(0.25,0.15),(0.5,0.3),(0.62,0.6),(0.72,0.92),(0.82,0.95),(0.92,0.8),(1,0.5)],
    # row 6
    [(-1,0.0),(-0.9,0.2),(-0.75,0.3),(-0.6,0.15),(-0.4,-0.15),(-0.3,-0.2),(-0.1,-0.05),(0.15,0.1),(0.34,0.2),(0.45,0.3),(0.55,0.7),(0.65,0.92),(0.75,0.97),(0.88,0.9),(1,0.5)],
    [(-1,0.0),(-0.9,0.2),(-0.76,0.28),(-0.6,0.12),(-0.4,-0.15),(-0.3,-0.2),(-0.1,-0.05),(0.15,0.08),(0.35,0.15),(0.45,0.3),(0.55,0.75),(0.65,0.93),(0.75,0.97),(0.88,0.9),(1,0.5)],
    [(-1,0.0),(-0.9,0.2),(-0.76,0.28),(-0.6,0.12),(-0.42,-0.15),(-0.32,-0.2),(-0.1,-0.05),(0.15,0.08),(0.32,0.2),(0.4,0.35),(0.5,0.75),(0.6,0.93),(0.72,0.97),(0.85,0.9),(1,0.5)],
    [(-1,0.0),(-0.9,0.2),(-0.76,0.28),(-0.6,0.12),(-0.4,-0.15),(-0.3,-0.2),(-0.1,-0.05),(0.15,0.08),(0.34,0.15),(0.42,0.3),(0.52,0.75),(0.62,0.93),(0.74,0.97),(0.87,0.9),(1,0.5)],
    [(-1,0.0),(-0.9,0.2),(-0.75,0.28),(-0.6,0.1),(-0.35,-0.15),(-0.23,-0.18),(0.0,0.05),(0.24,0.15),(0.35,0.12),(0.42,0.35),(0.52,0.8),(0.62,0.95),(0.75,0.96),(0.9,0.8),(1,0.5)],
    [(-1,0.0),(-0.9,0.2),(-0.75,0.28),(-0.6,0.1),(-0.4,-0.15),(-0.32,-0.2),(0.0,0.0),(0.2,0.1),(0.32,0.15),(0.42,0.35),(0.52,0.8),(0.62,0.95),(0.75,0.96),(0.9,0.8),(1,0.5)],
    [(-1,0.0),(-0.9,0.2),(-0.75,0.28),(-0.6,0.1),(-0.38,-0.15),(-0.28,-0.18),(0.0,0.05),(0.22,0.15),(0.32,0.1),(0.4,0.35),(0.5,0.8),(0.6,0.95),(0.73,0.96),(0.88,0.8),(1,0.5)],
    [(-1,0.0),(-0.9,0.2),(-0.75,0.28),(-0.6,0.1),(-0.38,-0.15),(-0.33,-0.18),(-0.05,0.1),(0.13,0.2),(0.25,0.12),(0.33,0.1),(0.42,0.35),(0.52,0.8),(0.62,0.95),(0.75,0.96),(0.9,0.8),(1,0.5)],
    [(-1,0.0),(-0.9,0.15),(-0.8,0.18),(-0.6,0.0),(-0.4,-0.12),(-0.33,-0.14),(-0.05,0.05),(0.2,0.13),(0.3,0.07),(0.36,0.07),(0.44,0.35),(0.53,0.8),(0.63,0.95),(0.75,0.96),(0.9,0.8),(1,0.5)],
    [(-1,0.0),(-0.9,0.15),(-0.8,0.2),(-0.6,0.0),(-0.38,-0.13),(-0.3,-0.15),(-0.05,0.05),(0.17,0.12),(0.3,0.08),(0.38,0.1),(0.46,0.4),(0.55,0.8),(0.65,0.95),(0.77,0.96),(0.9,0.8),(1,0.5)],
    [(-1,0.0),(-0.9,0.15),(-0.8,0.2),(-0.6,0.0),(-0.38,-0.13),(-0.3,-0.15),(-0.05,0.05),(0.17,0.12),(0.28,0.08),(0.36,0.1),(0.45,0.4),(0.55,0.8),(0.65,0.95),(0.77,0.96),(0.9,0.8),(1,0.5)],
    [(-1,0.0),(-0.9,0.12),(-0.75,0.2),(-0.6,0.05),(-0.38,-0.12),(-0.28,-0.15),(0.0,0.05),(0.15,0.1),(0.3,0.15),(0.4,0.2),(0.48,0.45),(0.56,0.85),(0.66,0.95),(0.78,0.96),(0.9,0.8),(1,0.5)],
    [(-1,0.0),(-0.9,0.15),(-0.75,0.25),(-0.6,0.05),(-0.35,-0.13),(-0.26,-0.15),(0.05,0.05),(0.2,0.12),(0.32,0.05),(0.4,0.1),(0.47,0.4),(0.56,0.82),(0.66,0.95),(0.77,0.96),(0.9,0.8),(1,0.5)],
    # row 7
    [(-1,-0.02),(-0.9,0.0),(-0.75,0.08),(-0.6,0.0),(-0.4,-0.11),(-0.3,-0.1),(-0.05,0.05),(0.15,0.12),(0.3,0.16),(0.4,0.2),(0.48,0.5),(0.58,0.85),(0.68,0.95),(0.8,0.97),(0.92,0.85),(1,0.5)],
    [(-1,0.0),(-0.9,0.0),(-0.7,0.05),(-0.55,-0.02),(-0.39,-0.07),(-0.2,0.0),(0.0,0.1),(0.2,0.15),(0.35,0.18),(0.46,0.2),(0.53,0.5),(0.62,0.85),(0.72,0.96),(0.83,0.97),(0.93,0.85),(1,0.5)],
    [(-1,0.0),(-0.9,0.02),(-0.78,0.05),(-0.6,-0.06),(-0.45,-0.05),(-0.2,0.05),(0.0,0.1),(0.2,0.17),(0.31,0.2),(0.4,0.22),(0.5,0.5),(0.6,0.85),(0.7,0.96),(0.83,0.97),(0.94,0.85),(1,0.5)],
    [(-1,-0.1),(-0.92,-0.12),(-0.8,-0.05),(-0.65,-0.05),(-0.45,-0.08),(-0.2,0.0),(0.05,0.1),(0.25,0.2),(0.38,0.25),(0.45,0.3),(0.55,0.6),(0.64,0.88),(0.74,0.96),(0.85,0.96),(0.94,0.85),(1,0.5)],
    [(-1,-0.05),(-0.92,-0.15),(-0.82,-0.21),(-0.65,-0.1),(-0.5,-0.04),(-0.25,0.05),(-0.07,0.09),(0.1,0.15),(0.24,0.23),(0.4,0.3),(0.5,0.6),(0.6,0.88),(0.7,0.96),(0.8,0.97),(0.92,0.85),(1,0.5)],
    [(-1,-0.05),(-0.92,-0.18),(-0.85,-0.24),(-0.65,-0.12),(-0.4,-0.04),(-0.15,0.05),(0.05,0.09),(0.2,0.18),(0.3,0.23),(0.38,0.3),(0.5,0.6),(0.6,0.88),(0.7,0.96),(0.8,0.97),(0.92,0.85),(1,0.5)],
    [(-1,-0.05),(-0.92,-0.15),(-0.83,-0.2),(-0.65,-0.1),(-0.4,-0.04),(-0.1,0.05),(0.07,0.09),(0.2,0.18),(0.29,0.23),(0.38,0.3),(0.48,0.6),(0.58,0.88),(0.68,0.96),(0.82,0.97),(0.93,0.85),(1,0.5)],
    [(-1,-0.05),(-0.92,-0.15),(-0.86,-0.2),(-0.65,-0.1),(-0.4,-0.04),(-0.1,0.05),(0.07,0.1),(0.2,0.2),(0.31,0.3),(0.4,0.35),(0.5,0.6),(0.6,0.88),(0.7,0.96),(0.84,0.97),(0.94,0.85),(1,0.5)],
]

# measured points: (cos theta, Sigma[, error])
sigma_data = [
    [(-0.9,0.24),(-0.8,0.33),(-0.68,0.38),(-0.56,0.42),(-0.44,0.44),(-0.32,0.45),(-0.2,0.46),(-0.08,0.47),(0.05,0.47),(0.18,0.47),(0.3,0.46),(0.42,0.45)],
    [(-0.92,0.22),(-0.8,0.36),(-0.68,0.42),(-0.55,0.45),(-0.42,0.47),(-0.3,0.48),(-0.18,0.48),(-0.05,0.49),(0.08,0.49),(0.2,0.49),(0.32,0.48),(0.45,0.47),(0.58,0.45)],
    [(-0.92,0.25),(-0.8,0.38),(-0.68,0.44),(-0.55,0.47),(-0.42,0.49),(-0.3,0.5),(-0.18,0.5),(-0.05,0.51),(0.08,0.51),(0.2,0.5),(0.32,0.5),(0.45,0.49),(0.58,0.47)],
    [(-0.9,0.3),(-0.78,0.42),(-0.66,0.47),(-0.54,0.5),(-0.42,0.52),(-0.3,0.52),(-0.18,0.53),(-0.05,0.53),(0.08,0.53),(0.2,0.53),(0.32,0.52),(0.44,0.5)],
    [(-0.78,0.6),(-0.68,0.66),(-0.58,0.7),(-0.48,0.74),(-0.38,0.77),(-0.28,0.8),(-0.18,0.82),(-0.08,0.85),(0.02,0.87),(0.08,0.88)],
    [(-0.62,0.62),(-0.52,0.65),(-0.42,0.68),(-0.32,0.72),(-0.22,0.76),(-0.12,0.79),(-0.02,0.82),(0.07,0.86)],
    [(-0.93,0.28),(-0.86,0.42),(-0.78,0.52),(-0.68,0.6),(-0.58,0.66),(-0.45,0.72),(-0.3,0.77),(-0.15,0.81),(0,0.84),(0.15,0.84),(0.3,0.84),(0.45,0.83),(0.6,0.83),(0.7,0.82)],
    [(-0.65,0.58),(-0.55,0.64),(-0.45,0.68),(-0.35,0.71),(-0.25,0.74),(-0.15,0.76),(-0.05,0.78),(0.05,0.8),(0.12,0.84)],
    [(-0.6,0.11),(-0.44,0.15),(-0.28,0.2,0.06),(-0.2,0.16,0.06),(-0.12,0.3),(-0.01,0.33),(0.1,0.38)],
    [(-0.89,0.23),(-0.76,0.2),(-0.6,0.12),(-0.45,0.1),(-0.3,0.12),(-0.15,0.16),(0,0.2),(0.15,0.26),(0.3,0.32),(0.45,0.42),(0.58,0.5),(0.7,0.58),(0.78,0.62)],
    [(-0.98,-0.1,0.25),(-0.93,0.22,0.07),(-0.8,0.14,0.06),(-0.64,0.05,0.05),(-0.48,0.07,0.06),(0.55,0.28,0.14),(0.7,0.86,0.05),(0.87,0.9,0.04)],
    [(-0.91,0.16),(-0.76,0.06),(-0.6,-0.01),(-0.44,-0.1),(-0.3,-0.14),(-0.15,-0.06),(0.0,0.08),(0.17,0.22),(0.33,0.38),(0.5,0.56),(0.66,0.75)],
    [(-0.92,0.03,0.06),(-0.77,-0.21,0.05),(-0.65,-0.26,0.05),(-0.53,-0.24,0.06),(0.62,0.88,0.06),(0.72,0.92,0.05)],
    # row 2
    [(-0.89,0.14),(-0.76,0.07),(-0.6,-0.12),(-0.44,-0.26),(-0.3,-0.32),(-0.16,-0.31),(0.02,0.0),(0.2,0.2),(0.36,0.4),(0.52,0.6),(0.66,0.78),(0.78,0.82)],
    [(-0.95,-0.12,0.1),(-0.91,0.02,0.05),(-0.82,-0.05,0.05),(-0.72,-0.14,0.05),(-0.52,-0.35,0.05),(-0.44,-0.36,0.05),(0.47,0.9,0.08),(0.72,0.93,0.06)],
    [(-0.91,-0.1),(-0.75,-0.2),(-0.58,-0.32),(-0.42,-0.44),(-0.28,-0.48),(-0.12,-0.36),(0.05,0.02),(0.2,0.35),(0.34,0.52),(0.47,0.65),(0.62,0.78),(0.76,0.85)],
    [(-0.93,-0.12,0.05),(-0.84,-0.2,0.05),(-0.73,-0.3,0.04),(-0.62,-0.37,0.04),(0.62,0.92,0.04),(0.88,0.5,0.04)],
    [(-0.9,-0.07),(-0.8,-0.14),(-0.69,-0.24),(-0.59,-0.34),(-0.22,-0.58),(0.1,0.2),(0.22,0.38),(0.33,0.55),(0.5,0.72),(0.68,0.82)],
    [(-0.94,-0.17),(-0.83,-0.2),(-0.72,-0.24),(0.39,0.88,0.08),(0.6,0.92),(0.82,0.92)],
    [(-0.89,-0.14),(-0.79,-0.24),(-0.68,-0.34),(-0.55,-0.5),(-0.38,-0.68),(0.04,-0.2),(0.18,0.3),(0.31,0.61),(0.47,0.72),(0.68,0.82)],
    [(-0.89,-0.1),(-0.79,-0.2),(-0.68,-0.48,0.06),(-0.55,-0.5,0.06),(0.38,0.88,0.08),(0.62,0.95),(0.8,0.95)],
    [(-0.86,-0.24),(-0.76,-0.31),(-0.65,-0.41),(-0.28,-0.82),(0.12,0.2),(0.2,0.45),(0.28,0.65),(0.41,0.78),(0.57,0.85),(0.73,0.92)],
    [(-0.93,-0.17),(-0.79,-0.24),(-0.68,-0.34),(0.17,0.14),(0.33,0.51),(0.47,0.66),(0.62,0.75)],
    [(-0.88,-0.2),(-0.78,-0.31),(-0.67,-0.37),(-0.35,-0.82),(-0.25,-0.84),(0.13,0.2),(0.29,0.61),(0.45,0.78),(0.61,0.85),(0.77,0.92)],
    [(-0.91,-0.2,0.05),(-0.81,-0.27,0.05),(-0.7,-0.34,0.05),(-0.54,-0.51,0.05),(0.41,0.85,0.06),(0.55,0.8,0.05),(0.68,0.82,0.04),(0.85,0.78,0.04)],
    [(-0.89,-0.27),(-0.79,-0.34),(-0.68,-0.41),(-0.58,-0.5),(-0.36,-0.82),(-0.26,-0.86),(0.11,0.41),(0.22,0.61),(0.38,0.75),(0.54,0.85),(0.7,0.9),(0.86,0.92)],
    # row 3
    [(-0.9,-0.08),(-0.8,-0.15),(-0.69,-0.22),(-0.59,-0.32),(0.07,-0.15),(0.23,0.26),(0.37,0.53),(0.55,0.72),(0.71,0.8),(0.82,0.83)],
    [(-0.87,-0.08),(-0.77,-0.15),(-0.66,-0.22),(-0.56,-0.3),(-0.27,-0.79),(-0.21,-0.83),(0.1,0.19),(0.2,0.5),(0.31,0.63),(0.52,0.8),(0.68,0.87),(0.83,0.93)],
    [(-0.9,0.02,0.05),(-0.85,-0.15,0.04),(-0.74,-0.25,0.05),(-0.58,-0.35,0.04),(0.48,0.93,0.06),(0.64,0.9,0.05),(0.9,0.73,0.06)],
    [(-0.91,-0.08),(-0.78,-0.15),(-0.62,-0.25),(-0.46,-0.35),(-0.3,-0.59),(-0.14,-0.76),(0.07,-0.08),(0.23,0.29),(0.39,0.53),(0.55,0.66),(0.71,0.77),(0.87,0.83)],
    [(-0.87,-0.01),(-0.77,-0.1),(-0.66,-0.22),(-0.55,-0.32),(-0.07,-0.28),(0.03,0.05),(0.14,0.32),(0.24,0.53),(0.4,0.66),(0.56,0.77),(0.72,0.87),(0.83,0.93)],
    [(-0.9,-0.01,0.05),(-0.8,-0.12),(-0.69,-0.18),(-0.59,-0.28),(0.53,0.87,0.05),(0.69,0.9),(0.85,0.83)],
    [(-0.94,0.02),(-0.83,-0.05),(-0.72,-0.15),(-0.62,-0.22),(-0.51,-0.32),(0.23,0.36),(0.39,0.6),(0.55,0.73),(0.71,0.83)],
    [(-0.91,0.05),(-0.79,-0.01),(-0.65,-0.12),(-0.54,-0.22),(0.1,0.12),(0.22,0.4),(0.36,0.6),(0.52,0.73),(0.68,0.83),(0.84,0.9)],
    [(-0.91,0.19,0.05),(-0.81,0.16),(-0.7,0.05),(-0.6,-0.05),(-0.49,-0.22),(-0.38,-0.37),(-0.06,-0.15),(0.2,0.39),(0.4,0.62),(0.57,0.76),(0.73,0.9),(0.84,0.93)],
    [(-0.95,-0.01),(-0.84,0.09),(-0.68,0.02),(-0.52,-0.12),(-0.36,-0.3),(-0.2,-0.42),(0.12,0.02),(0.28,0.36),(0.49,0.63),(0.65,0.77)],
    [(-0.87,0.19),(-0.75,0.12),(-0.5,-0.15),(-0.25,-0.38),(-0.02,-0.08),(0.12,0.25),(0.35,0.63),(0.51,0.77),(0.67,0.87)],
    [(-0.9,0.26,0.05),(-0.8,0.22),(-0.69,0.12),(-0.58,0.0),(-0.43,-0.12,0.06),(-0.3,-0.3),(-0.18,-0.4),(0.1,0.12),(0.22,0.4),(0.37,0.56),(0.53,0.77),(0.69,0.87),(0.85,0.9)],
    [(-0.89,0.22),(-0.79,0.22),(-0.68,0.15),(-0.52,-0.01),(-0.36,-0.25),(-0.2,-0.35),(-0.05,-0.1),(0.07,0.12),(0.17,0.36),(0.33,0.6),(0.49,0.73),(0.65,0.83),(0.81,0.9)],
    # row 4
    [(-0.72,0.26),(-0.57,0.12),(-0.42,-0.2),(-0.27,-0.45),(-0.12,-0.15),(0.07,0.23),(0.25,0.52),(0.45,0.74),(0.6,0.84),(0.77,0.91)],
    [(-0.75,0.18),(-0.5,-0.25),(-0.3,-0.5),(0.09,0.09),(0.25,0.45),(0.4,0.6),(0.56,0.74),(0.73,0.84)],
    [(-0.9,0.33,0.07),(-0.52,0.0,0.06),(0.53,0.84,0.07),(0.82,0.75),(0.95,0.45)],
    [(-0.83,0.35),(-0.7,0.28),(-0.56,0.1),(-0.45,-0.1),(-0.35,-0.35),(-0.2,-0.52),(-0.05,-0.1),(0.07,0.16),(0.18,0.4),(0.29,0.6),(0.45,0.72),(0.61,0.81)],
    [(-0.82,0.37),(-0.66,0.3),(-0.5,0.1),(-0.34,-0.2),(-0.18,-0.1),(0.03,0.3),(0.2,0.48),(0.36,0.6),(0.52,0.74),(0.67,0.84)],
    [(-0.78,0.4),(-0.6,0.22),(-0.43,-0.04),(-0.28,-0.2),(-0.11,0.09),(0.0,0.3),(0.11,0.43),(0.21,0.53),(0.32,0.64),(0.48,0.77)],
    [(-0.88,0.33,0.07),(-0.66,0.2),(-0.5,-0.05),(0.61,0.84,0.06),(0.77,0.88)],
    [(-0.86,0.37),(-0.7,0.28),(-0.54,0.1),(-0.38,-0.05),(-0.22,0.1),(-0.06,0.3),(0.1,0.47),(0.26,0.58),(0.42,0.7),(0.62,0.8)],
    [(-0.8,0.37),(-0.64,0.26),(-0.48,0.0),(-0.33,-0.2),(-0.17,-0.01),(0.04,0.3),(0.2,0.4),(0.36,0.57),(0.5,0.68),(0.63,0.8)],
    [(-0.84,0.38),(-0.68,0.3),(-0.5,0.05),(-0.31,-0.04),(-0.18,0.16),(-0.07,0.33),(0.03,0.42),(0.12,0.53),(0.22,0.64),(0.38,0.77),(0.54,0.85)],
    [(-0.9,0.4,0.07),(-0.55,0.03,0.05)],
    [(-0.95,0.03),(-0.21,0.06),(-0.05,0.23),(0.12,0.38),(0.28,0.5),(0.43,0.64),(0.58,0.77)],
    [(-0.84,0.36),(-0.68,0.27),(-0.52,0.18),(-0.36,-0.04),(-0.25,0.1),(-0.15,0.23),(-0.04,0.36),(0.06,0.47),(0.17,0.53),(0.33,0.63),(0.44,0.68),(0.6,0.78)],
    # row 5
    [(-0.88,0.45),(-0.78,0.5),(-0.64,0.38),(-0.48,0.1),(-0.36,0.05),(-0.22,0.14),(-0.1,0.29),(0.05,0.45),(0.17,0.53),(0.3,0.58),(0.45,0.66),(0.56,0.76),(0.67,0.88),(0.77,0.92)],
    [(-0.89,0.43,0.05),(-0.8,0.5,0.05),(-0.7,0.42,0.05),(-0.42,0.29,0.06),(0.52,0.7,0.07),(0.7,0.9,0.06),(0.78,0.82,0.06)],
    [(-0.9,0.46),(-0.75,0.45),(-0.59,0.29),(-0.45,0.1),(-0.32,-0.01),(-0.21,0.16),(-0.05,0.29),(0.06,0.36),(0.16,0.43),(0.3,0.52),(0.48,0.7),(0.6,0.82)],
    [(-0.8,0.53),(-0.7,0.52),(-0.59,0.46),(-0.43,0.26),(-0.27,0.29),(-0.16,0.32),(0.0,0.39),(0.11,0.46),(0.21,0.49),(0.32,0.56),(0.43,0.63),(0.55,0.72)],
    [(-0.87,0.46),(-0.75,0.52),(-0.55,0.32),(-0.4,0.2),(-0.28,0.15),(-0.12,0.25),(0.03,0.35),(0.2,0.41),(0.35,0.47),(0.47,0.52),(0.6,0.62)],
    [(-0.9,0.48,0.06),(-0.78,0.62,0.08),(-0.63,0.38),(-0.46,0.28),(-0.33,0.22),(-0.2,0.3),(-0.08,0.38),(0.05,0.45),(0.17,0.5),(0.3,0.53),(0.42,0.56),(0.6,0.88,0.05),(0.75,0.92),(0.86,0.8,0.06)],
    [(-0.9,0.5),(-0.74,0.53),(-0.58,0.4),(-0.42,0.26),(-0.29,0.16),(-0.14,0.22),(-0.04,0.32),(0.1,0.42),(0.24,0.49),(0.37,0.5),(0.76,0.93)],
    [(-0.88,0.5),(-0.73,0.56),(-0.56,0.4),(-0.38,0.2),(-0.24,0.28),(-0.08,0.4),(0.1,0.48),(0.26,0.52),(0.42,0.56),(0.63,0.77)],
    [(-0.91,0.66,0.06),(-0.8,0.62,0.06),(-0.7,0.66,0.06),(-0.6,0.52,0.06),(-0.49,0.32,0.06),(-0.38,0.22,0.05),(0.41,0.5,0.15),(0.57,0.8,0.05),(0.68,0.88,0.05)],
    [(-0.89,0.6),(-0.74,0.6),(-0.58,0.48),(-0.4,0.22),(-0.25,0.26),(-0.1,0.43),(0.06,0.49),(0.2,0.53),(0.34,0.52),(0.45,0.5),(0.7,0.88)],
    [(-0.92,0.5),(-0.79,0.53),(-0.63,0.48),(-0.47,0.26),(-0.31,0.28),(-0.15,0.38),(0.0,0.45),(0.15,0.5),(0.31,0.5),(0.42,0.5),(0.6,0.88)],
    [(-0.85,0.63),(-0.74,0.63),(-0.58,0.43),(-0.42,0.26),(-0.26,0.33),(-0.1,0.43),(0.06,0.53),(0.22,0.53),(0.38,0.36),(0.58,0.77)],
    [(-0.89,0.87,0.06),(-0.77,0.73,0.06),(-0.66,0.66,0.06),(-0.56,0.45,0.05),(-0.41,0.53,0.07),(0.47,0.36,0.2),(0.58,0.85,0.05)],
    # row 6
    [(-0.83,0.6),(-0.69,0.66),(-0.57,0.52),(-0.44,0.3),(-0.33,0.25),(-0.18,0.38),(-0.05,0.5),(0.07,0.57),(0.2,0.54),(0.32,0.44),(0.45,0.3)],
    [(-0.82,0.64),(-0.72,0.66),(-0.6,0.5),(-0.45,0.36),(-0.34,0.31),(-0.2,0.4),(-0.05,0.52),(0.08,0.55),(0.2,0.52),(0.35,0.2),(0.42,0.18)],
    [(-0.85,0.7,0.1),(-0.69,0.64,0.08),(-0.57,0.64,0.07),(-0.43,0.4,0.07),(0.48,0.33,0.25),(0.64,0.72,0.06),(0.78,0.9,0.05)],
    [(-0.83,0.67),(-0.7,0.64),(-0.56,0.5),(-0.45,0.35),(-0.3,0.32),(-0.16,0.45),(0.0,0.55),(0.12,0.57),(0.24,0.5),(0.4,0.16),(0.45,0.15)],
    [(-0.82,0.64),(-0.71,0.74),(-0.6,0.67),(-0.5,0.5),(-0.39,0.35),(-0.28,0.37),(-0.13,0.5),(0.02,0.57),(0.17,0.57),(0.28,0.47),(0.38,0.03),(0.44,0.05)],
    [(-0.85,0.57,0.08),(-0.69,0.74,0.07),(-0.53,0.43,0.08),(-0.39,0.26,0.08),(-0.24,0.5,0.15),(0.43,0.74,0.4),(0.65,0.9,0.05),(0.8,0.96,0.04)],
    [(-0.88,0.74),(-0.78,0.7),(-0.67,0.57),(-0.51,0.4),(-0.4,0.33),(-0.24,0.43),(-0.08,0.53),(0.07,0.6),(0.18,0.5),(0.34,0.06),(0.45,-0.07)],
    [(-0.86,0.77),(-0.76,0.77),(-0.65,0.7),(-0.49,0.57),(-0.4,0.33),(-0.22,0.47),(-0.06,0.57),(0.1,0.6),(0.2,0.57),(0.36,-0.07),(0.47,-0.18)],
    [(-0.91,0.7,0.06),(-0.8,0.73,0.06),(-0.7,0.74,0.06),(-0.6,0.6,0.05),(-0.44,0.43,0.05),(-0.22,0.77,0.05),(0.41,-0.28,0.55),(0.6,0.85,0.05)],
    [(-0.89,0.77),(-0.79,0.8),(-0.68,0.77),(-0.54,0.57),(-0.43,0.4),(-0.28,0.47),(-0.12,0.57),(0.0,0.6),(0.11,0.6),(0.25,0.35),(0.34,-0.2),(0.44,-0.28),(0.54,0.6)],
    [(-0.83,0.74),(-0.73,0.8),(-0.62,0.7),(-0.52,0.45),(-0.41,0.4),(-0.25,0.5),(-0.1,0.6),(0.02,0.6),(0.2,0.33),(0.34,-0.2),(0.45,-0.38),(0.55,0.53)],
    [(-0.86,0.6,0.07),(-0.7,0.57,0.06),(-0.54,0.4,0.08),(-0.4,0.3,0.08),(-0.22,0.16,0.2),(0.41,-0.04,0.25),(0.62,0.9,0.05)],
    [(-0.84,0.8),(-0.74,0.84),(-0.63,0.74),(-0.47,0.47),(-0.36,0.44),(-0.2,0.53),(-0.04,0.64),(0.12,0.6),(0.23,0.37),(0.33,-0.24),(0.44,-0.38)],
    # row 7
    [(-0.9,0.77,0.06),(-0.82,0.83,0.06),(-0.72,0.72,0.05),(-0.6,0.6,0.08),(-0.5,0.57,0.08),(-0.26,0.67,0.25),(-0.1,0.65),(0.05,0.65),(0.18,0.6),(0.38,-0.31,0.6),(0.55,0.6,0.08),(0.65,0.87,0.06),(0.85,0.9)],
    [(-0.87,0.74),(-0.77,0.87),(-0.67,0.74),(-0.53,0.57),(-0.39,0.53),(-0.2,0.63),(-0.05,0.67),(0.1,0.67),(0.2,0.57),(0.35,-0.34),(0.46,-0.41),(0.67,0.9)],
    [(-0.89,0.74,0.06),(-0.76,0.87),(-0.66,0.84),(-0.5,0.63),(-0.28,0.6),(-0.08,0.67),(0.06,0.67),(0.22,0.63),(0.32,0.57),(0.45,-0.28,0.06),(0.73,0.9)],
    [(-0.83,0.91),(-0.73,0.81),(-0.62,0.67),(-0.51,0.54),(-0.35,0.57),(-0.19,0.67),(-0.03,0.71),(0.13,0.71),(0.29,0.57),(0.4,-0.18),(0.4,-0.51,0.05),(0.68,0.9)],
    [(-0.87,0.91),(-0.77,0.84),(-0.66,0.74),(-0.5,0.67),(-0.34,0.57),(-0.18,0.67),(-0.02,0.67),(0.08,0.67),(0.19,0.6),(0.3,0.43),(0.4,-0.31),(0.46,-0.35),(0.78,0.9)],
    [(-0.85,0.91,0.05),(-0.64,0.94),(-0.48,0.7),(-0.32,0.67),(-0.16,0.67),(0.0,0.7),(0.16,0.67),(0.27,0.43),(0.4,-0.24),(0.5,-0.35),(0.8,0.94)],
    [(-0.88,0.6,0.08),(-0.78,0.84),(-0.56,0.7),(-0.4,0.64),(-0.2,0.67),(-0.04,0.7),(0.12,0.67),(0.27,0.57),(0.39,-0.21),(0.62,0.77),(0.82,0.95)],
    [(-0.86,0.64,0.1),(-0.65,0.91),(-0.55,0.7),(-0.4,0.6),(-0.2,0.57),(-0.05,0.64),(0.15,0.64),(0.25,0.5),(0.41,-0.31),(0.45,-0.2),(0.8,0.9)],
]

NROWS, NCOLS = 7, 13
SERIF = "Liberation Serif"
fig = make_subplots(rows=NROWS, cols=NCOLS, horizontal_spacing=0, vertical_spacing=0)

for i, energy in enumerate(energies):
    r, c = i // NCOLS + 1, i % NCOLS + 1
    rf, bf, dp = red_fit[i], blue_fit[i], sigma_data[i]
    fig.add_trace(go.Scatter(x=[p[0] for p in rf], y=[p[1] for p in rf], mode="lines",
                             line=dict(color="#ff0000", width=2, shape="spline", smoothing=0.8),
                             showlegend=False, hoverinfo="skip"), row=r, col=c)
    fig.add_trace(go.Scatter(x=[p[0] for p in bf], y=[p[1] for p in bf], mode="lines",
                             line=dict(color="#0000ff", width=2, shape="spline", smoothing=0.8),
                             showlegend=False, hoverinfo="skip"), row=r, col=c)
    fig.add_trace(go.Scatter(x=[p[0] for p in dp], y=[p[1] for p in dp], mode="markers",
                             marker=dict(symbol="square", size=4.5, color="black"),
                             error_y=dict(type="data", array=[p[2] if len(p) > 2 else 0.02 for p in dp],
                                          color="black", thickness=1, width=2),
                             showlegend=False, hoverinfo="skip"), row=r, col=c)
    fig.add_annotation(text=str(energy), x=-0.83, y=-0.62, xanchor="left", yanchor="middle",
                       showarrow=False, font=dict(family=SERIF, size=17, color="black"),
                       row=r, col=c)

tickfont = dict(family=SERIF, size=16.5, color="black", weight="bold")
for r in range(1, NROWS + 1):
    for c in range(1, NCOLS + 1):
        idx = (r - 1) * NCOLS + c - 1
        if idx >= len(energies):
            fig.update_xaxes(visible=False, row=r, col=c)
            fig.update_yaxes(visible=False, row=r, col=c)
            continue
        bottom = (r == NROWS) or (idx + NCOLS >= len(energies))
        fig.update_xaxes(range=[-1, 1], showgrid=False, zeroline=False, showline=True,
                         linecolor="black", linewidth=1.5, mirror="ticks", ticks="inside",
                         ticklen=7, tickwidth=1.5, tickcolor="black", automargin=False,
                         tickvals=x_ticks, ticktext=x_tick_text, showticklabels=bottom,
                         tickangle=0, tickfont=tickfont, ticklabelstandoff=2,
                         row=r, col=c)
        if c == 1:
            vals = y_tick_vals if r == 1 else y_tick_vals[:-1]
            text = y_tick_text if r == 1 else y_tick_text[:-1]
        else:
            vals, text = [-0.5, 0, 0.5], ["-0.5", "0", "0.5"]
        fig.update_yaxes(range=[-1, 1], showgrid=False, zeroline=False, showline=True,
                         linecolor="black", linewidth=1.5, mirror="ticks", ticks="inside",
                         ticklen=8, tickwidth=1.5, tickcolor="black", automargin=False,
                         tickvals=vals, ticktext=text, showticklabels=(c == 1),
                         tickfont=tickfont, ticklabelstandoff=3,
                         row=r, col=c)
        n = idx + 1
        sfx = "" if n == 1 else str(n)
        if c == 1:
            fig.add_annotation(text="Σ", xref=f"x{sfx} domain", yref=f"y{sfx}", x=-0.8, y=0,
                               xanchor="center", yanchor="middle", textangle=-90, showarrow=False,
                               font=dict(family=SERIF, size=16, color="black", weight="bold"))
        if bottom:
            fig.add_annotation(text="cosθ", xref=f"x{sfx}", yref=f"y{sfx} domain", x=0.05, y=-0.415,
                               xanchor="center", yanchor="middle", showarrow=False,
                               font=dict(family=SERIF, size=16.5, color="black", weight="bold"))

# green highlight ellipse with soft shadow (paper coordinates)
ell = dict(x0=-0.0613, x1=1.0539, y0=-0.158, y1=0.6197)
for dy, w, col in [(-0.011, 8, "rgba(0,0,0,0.07)"), (-0.007, 6, "rgba(0,0,0,0.13)")]:
    fig.add_shape(type="circle", xref="paper", yref="paper", x0=ell["x0"] + 0.003, x1=ell["x1"] + 0.003,
                  y0=ell["y0"] + dy, y1=ell["y1"] + dy, line=dict(color=col, width=w))
fig.add_shape(type="circle", xref="paper", yref="paper", **ell,
              line=dict(color="rgb(16,166,76)", width=5))

fig.update_layout(width=901, height=749, margin=dict(l=73, r=12, t=10, b=50),
                  paper_bgcolor="white", plot_bgcolor="white", showlegend=False)

fig.write_html("out.html", config={"displayModeBar": False},
               post_script="document.body.style.margin='0px';")
